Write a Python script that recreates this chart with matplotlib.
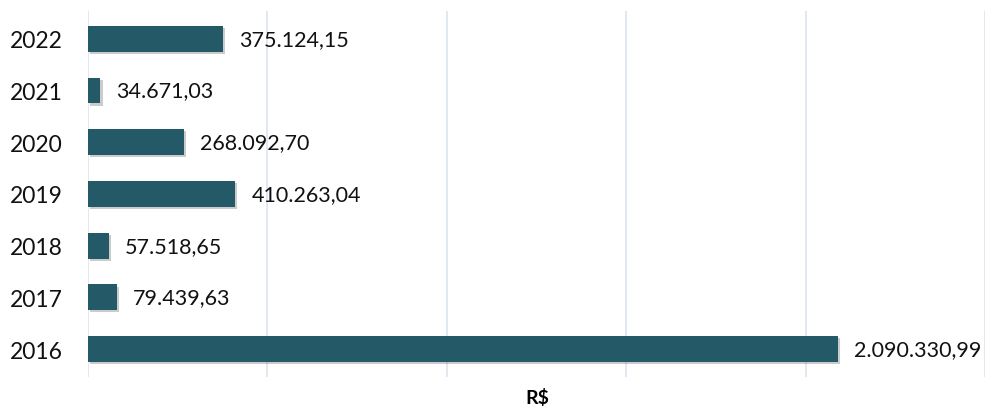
import matplotlib.pyplot as plt
import matplotlib.patheffects as pe

anos = ["2016", "2017", "2018", "2019", "2020", "2021", "2022"]
valores = [2090330.99, 79439.63, 57518.65, 410263.04, 268092.70, 34671.03, 375124.15]
rotulos = ["2.090.330,99", "79.439,63", "57.518,65", "410.263,04",
           "268.092,70", "34.671,03", "375.124,15"]

plt.rcParams["font.family"] = ["Lato", "DejaVu Sans"]

fig = plt.figure(figsize=(10, 4.1), dpi=100)
ax = fig.add_axes([0.088, 0.078, 0.897, 0.893])

bars = ax.barh(range(len(anos)), valores, height=0.5, color="#245A68", zorder=3)
for b in bars:
    b.set_path_effects([pe.SimplePatchShadow(offset=(1.5, -1.5), alpha=0.3, shadow_rgbFace="#555555"),
                        pe.Normal()])

for i, (v, r) in enumerate(zip(valores, rotulos)):
    ax.text(v + 45000, i, r, va="center", ha="left", fontsize=15.5, color="#111111")

ax.set_xlim(0, 2500000)
ax.set_ylim(-0.54, len(anos) - 0.46)
ax.set_xticks([0, 500000, 1000000, 1500000, 2000000, 2500000])
ax.set_xticklabels([])
ax.set_yticks(range(len(anos)))
ax.set_yticklabels(anos, fontsize=16.5, color="#111111")
ax.tick_params(length=0, pad=18)
ax.grid(axis="x", color="#DCE4F0", linewidth=1.2, zorder=0)
for s in ax.spines.values():
    s.set_visible(False)

fig.text(0.537, 0.03, "R$", ha="center", va="center", fontsize=14, fontweight="bold")

fig.savefig("out.png", dpi=100)
